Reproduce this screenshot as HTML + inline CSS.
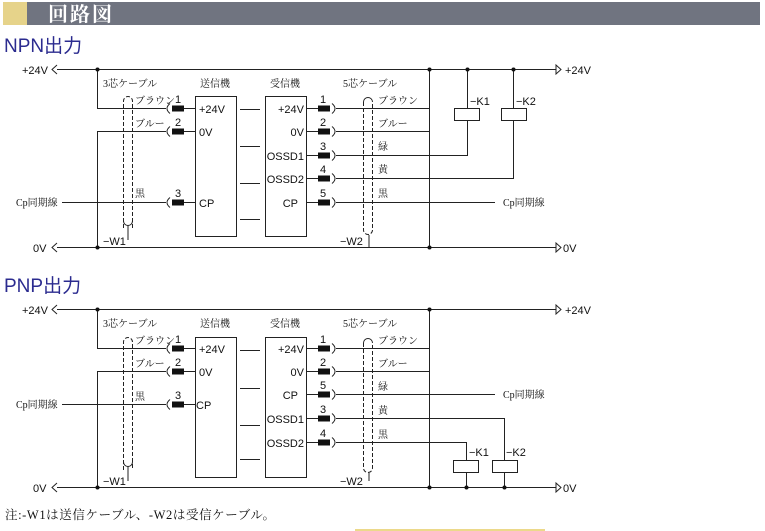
<!DOCTYPE html>
<html><head><meta charset="utf-8">
<style>
html,body{margin:0;padding:0;background:#fff;}
svg{display:block;}
.s{font-family:"Liberation Serif","Noto Serif CJK SC","Noto Sans CJK JP",serif;}
.a{font-family:"Liberation Sans","Noto Sans CJK JP",sans-serif;}
</style></head><body>
<svg width="765" height="531" viewBox="0 0 765 531" xmlns="http://www.w3.org/2000/svg">
<rect x="3" y="2" width="24" height="23" fill="#e6d38a"/>
<rect x="27" y="2" width="733" height="23" fill="#707480"/>
<text x="48" y="21" class="s" font-size="20" fill="#fff" font-weight="bold" letter-spacing="2">回路図</text>
<text x="4" y="52" class="a" font-size="19" fill="#2b2b8f">NPN出力</text>
<text x="4" y="292" class="a" font-size="19" fill="#2b2b8f">PNP出力</text>

<defs>
<g id="lc"><path d="M170,-5 Q164,0 170,5" fill="none" stroke="#222" stroke-width="1"/><rect x="172" y="-3" width="12" height="6" fill="#111"/><line x1="184" y1="0" x2="195" y2="0" stroke="#222"/></g>
<g id="rc"><line x1="306" y1="0" x2="318" y2="0" stroke="#222"/><rect x="318" y="-3" width="12" height="6" fill="#111"/><path d="M332,-5 Q338,0 332,5" fill="none" stroke="#222" stroke-width="1"/></g>
</defs>

<!-- ================= NPN ================= -->
<g fill="none" stroke="#222" stroke-width="1">
<line x1="57" y1="69.5" x2="557" y2="69.5"/>
<line x1="57" y1="247.5" x2="557" y2="247.5"/>
<path d="M57,65 L52,69.5 L57,74"/><path d="M57,243 L52,247.5 L57,252"/>
<path d="M556,65 L561,69.5 L556,74 Z" fill="#fff"/><path d="M556,243 L561,247.5 L556,252 Z" fill="#fff"/>
<polyline points="97.5,69 97.5,108.5 166,108.5"/>
<polyline points="97.5,247 97.5,131.5 166,131.5"/>
<line x1="62" y1="202.5" x2="166" y2="202.5"/>
<rect x="195.5" y="96.5" width="41" height="140"/>
<rect x="265.5" y="96.5" width="41" height="140"/>
<line x1="240" y1="109.5" x2="260" y2="109.5"/><line x1="240" y1="146.5" x2="260" y2="146.5"/>
<line x1="240" y1="183.5" x2="260" y2="183.5"/><line x1="240" y1="219.5" x2="260" y2="219.5"/>
<!-- W1 -->
<path d="M123.5,228 L123.5,101 A4.5,4.5 0 0 1 132.5,101 L132.5,228" stroke-dasharray="4,2"/>
<path d="M123.5,221 A4.5,4.5 0 0 0 132.5,221"/>
<line x1="128" y1="225" x2="128" y2="240"/>
<!-- W2 -->
<path d="M363.5,102 L363.5,230 A4.5,4.5 0 0 0 372.5,230 L372.5,102" stroke-dasharray="4,2"/>
<path d="M363.5,102 A4.5,4.5 0 0 1 372.5,102"/>
<line x1="369" y1="235" x2="369" y2="247"/>
<!-- right wires -->
<polyline points="336,108.5 429.5,108.5"/>
<line x1="429.5" y1="69" x2="429.5" y2="247"/>
<polyline points="336,131.5 429.5,131.5"/>
<polyline points="336,155.5 467.5,155.5 467.5,120"/>
<line x1="467.5" y1="69" x2="467.5" y2="108"/>
<rect x="454.5" y="108.5" width="25" height="12"/>
<polyline points="336,178.5 513.5,178.5 513.5,120"/>
<line x1="513.5" y1="69" x2="513.5" y2="108"/>
<rect x="501.5" y="108.5" width="25" height="12"/>
<line x1="336" y1="202.5" x2="495" y2="202.5"/>
</g>
<g fill="#111"><circle cx="97.5" cy="69.5" r="2"/><circle cx="97.5" cy="247.5" r="2"/><circle cx="429.5" cy="69.5" r="2"/><circle cx="467.5" cy="69.5" r="2"/><circle cx="513.5" cy="69.5" r="2"/><circle cx="429.5" cy="247.5" r="2"/></g>
<use href="#lc" y="108.5"/><use href="#lc" y="131.5"/><use href="#lc" y="202.5"/>
<use href="#rc" y="108.5"/><use href="#rc" y="131.5"/><use href="#rc" y="155.5"/><use href="#rc" y="178.5"/><use href="#rc" y="202.5"/>
<g class="a" font-size="11" fill="#111">
<text x="22" y="74">+24V</text><text x="33" y="252">0V</text>
<text x="565" y="74">+24V</text><text x="563" y="252">0V</text>
<text x="199" y="113">+24V</text><text x="199" y="136">0V</text><text x="199" y="207">CP</text>
<g text-anchor="end"><text x="304" y="113">+24V</text><text x="304" y="136">0V</text><text x="304" y="160">OSSD1</text><text x="304" y="183">OSSD2</text><text x="298" y="207">CP</text></g>
<text x="175" y="103">1</text><text x="175" y="126">2</text><text x="175" y="197">3</text>
<text x="320" y="103">1</text><text x="320" y="126">2</text><text x="320" y="150">3</text><text x="320" y="173">4</text><text x="320" y="197">5</text>
<text x="103" y="245">−W1</text><text x="340" y="245">−W2</text>
<text x="470" y="105">−K1</text><text x="516" y="105">−K2</text>
</g>
<g class="s" font-size="10" fill="#111">
<text x="103" y="87">3芯ケーブル</text><text x="200" y="87">送信機</text><text x="270" y="87">受信機</text><text x="343" y="87">5芯ケーブル</text>
<text x="135" y="104">ブラウン</text><text x="135" y="127">ブルー</text><text x="135" y="197">黒</text>
<text x="378" y="104">ブラウン</text><text x="378" y="127">ブルー</text><text x="378" y="150">緑</text><text x="378" y="173">黄</text><text x="378" y="197">黒</text>
<text x="16" y="206">Cp同期線</text><text x="503" y="206">Cp同期線</text>
</g>

<!-- ================= PNP ================= -->
<g fill="none" stroke="#222" stroke-width="1">
<line x1="57" y1="309.5" x2="557" y2="309.5"/>
<line x1="57" y1="487.5" x2="557" y2="487.5"/>
<path d="M57,305 L52,309.5 L57,314"/><path d="M57,483 L52,487.5 L57,492"/>
<path d="M556,305 L561,309.5 L556,314 Z" fill="#fff"/><path d="M556,483 L561,487.5 L556,492 Z" fill="#fff"/>
<polyline points="97.5,309 97.5,348.5 166,348.5"/>
<polyline points="97.5,487 97.5,371.5 166,371.5"/>
<line x1="62" y1="404.5" x2="166" y2="404.5"/>
<rect x="195.5" y="337.5" width="41" height="140"/>
<rect x="265.5" y="337.5" width="41" height="140"/>
<line x1="240" y1="350.5" x2="260" y2="350.5"/><line x1="240" y1="388.5" x2="260" y2="388.5"/>
<line x1="240" y1="425.5" x2="260" y2="425.5"/><line x1="240" y1="459.5" x2="260" y2="459.5"/>
<path d="M123.5,470 L123.5,342 A4.5,4.5 0 0 1 132.5,342 L132.5,470" stroke-dasharray="4,2"/>
<path d="M123.5,462 A4.5,4.5 0 0 0 132.5,462"/>
<line x1="128" y1="466" x2="128" y2="481"/>
<path d="M363.5,343 L363.5,468 A4.5,4.5 0 0 0 372.5,468 L372.5,343" stroke-dasharray="4,2"/>
<path d="M363.5,343 A4.5,4.5 0 0 1 372.5,343"/>
<line x1="369" y1="473" x2="369" y2="481"/>
<line x1="336" y1="348.5" x2="429.5" y2="348.5"/>
<line x1="429.5" y1="309" x2="429.5" y2="487"/>
<line x1="336" y1="371.5" x2="429.5" y2="371.5"/>
<line x1="336" y1="394.5" x2="495" y2="394.5"/>
<polyline points="336,418.5 504.5,418.5 504.5,460"/>
<rect x="492.5" y="460.5" width="25" height="12"/>
<line x1="504.5" y1="473" x2="504.5" y2="487"/>
<polyline points="336,442.5 466.5,442.5 466.5,460"/>
<rect x="453.5" y="460.5" width="25" height="12"/>
<line x1="466.5" y1="473" x2="466.5" y2="487"/>
</g>
<g fill="#111"><circle cx="97.5" cy="309.5" r="2"/><circle cx="97.5" cy="487.5" r="2"/><circle cx="429.5" cy="309.5" r="2"/><circle cx="429.5" cy="487.5" r="2"/><circle cx="466.5" cy="487.5" r="2"/><circle cx="504.5" cy="487.5" r="2"/></g>
<use href="#lc" y="348.5"/><use href="#lc" y="371.5"/><use href="#lc" y="404.5"/>
<use href="#rc" y="348.5"/><use href="#rc" y="371.5"/><use href="#rc" y="394.5"/><use href="#rc" y="418.5"/><use href="#rc" y="442.5"/>
<g class="a" font-size="11" fill="#111">
<text x="22" y="314">+24V</text><text x="33" y="492">0V</text>
<text x="565" y="314">+24V</text><text x="563" y="492">0V</text>
<text x="199" y="353">+24V</text><text x="199" y="376">0V</text><text x="196" y="409">CP</text>
<g text-anchor="end"><text x="304" y="353">+24V</text><text x="304" y="376">0V</text><text x="298" y="399">CP</text><text x="304" y="423">OSSD1</text><text x="304" y="447">OSSD2</text></g>
<text x="175" y="343">1</text><text x="175" y="366">2</text><text x="175" y="399">3</text>
<text x="320" y="343">1</text><text x="320" y="366">2</text><text x="320" y="389">5</text><text x="320" y="413">3</text><text x="320" y="437">4</text>
<text x="103" y="485">−W1</text><text x="340" y="485">−W2</text>
<text x="469" y="456">−K1</text><text x="506" y="456">−K2</text>
</g>
<g class="s" font-size="10" fill="#111">
<text x="103" y="327">3芯ケーブル</text><text x="200" y="327">送信機</text><text x="270" y="327">受信機</text><text x="343" y="327">5芯ケーブル</text>
<text x="135" y="344">ブラウン</text><text x="135" y="367">ブルー</text><text x="135" y="400">黒</text>
<text x="378" y="344">ブラウン</text><text x="378" y="367">ブルー</text><text x="378" y="390">緑</text><text x="378" y="414">黄</text><text x="378" y="438">黒</text>
<text x="16" y="408">Cp同期線</text><text x="503" y="398">Cp同期線</text>
</g>

<text x="5" y="519" class="s" font-size="12.5" fill="#111" letter-spacing="0.6">注:-W1は送信ケーブル、-W2は受信ケーブル。</text>
<rect x="355" y="529" width="190" height="2" fill="#ecd98a"/>
</svg>
</body></html>
